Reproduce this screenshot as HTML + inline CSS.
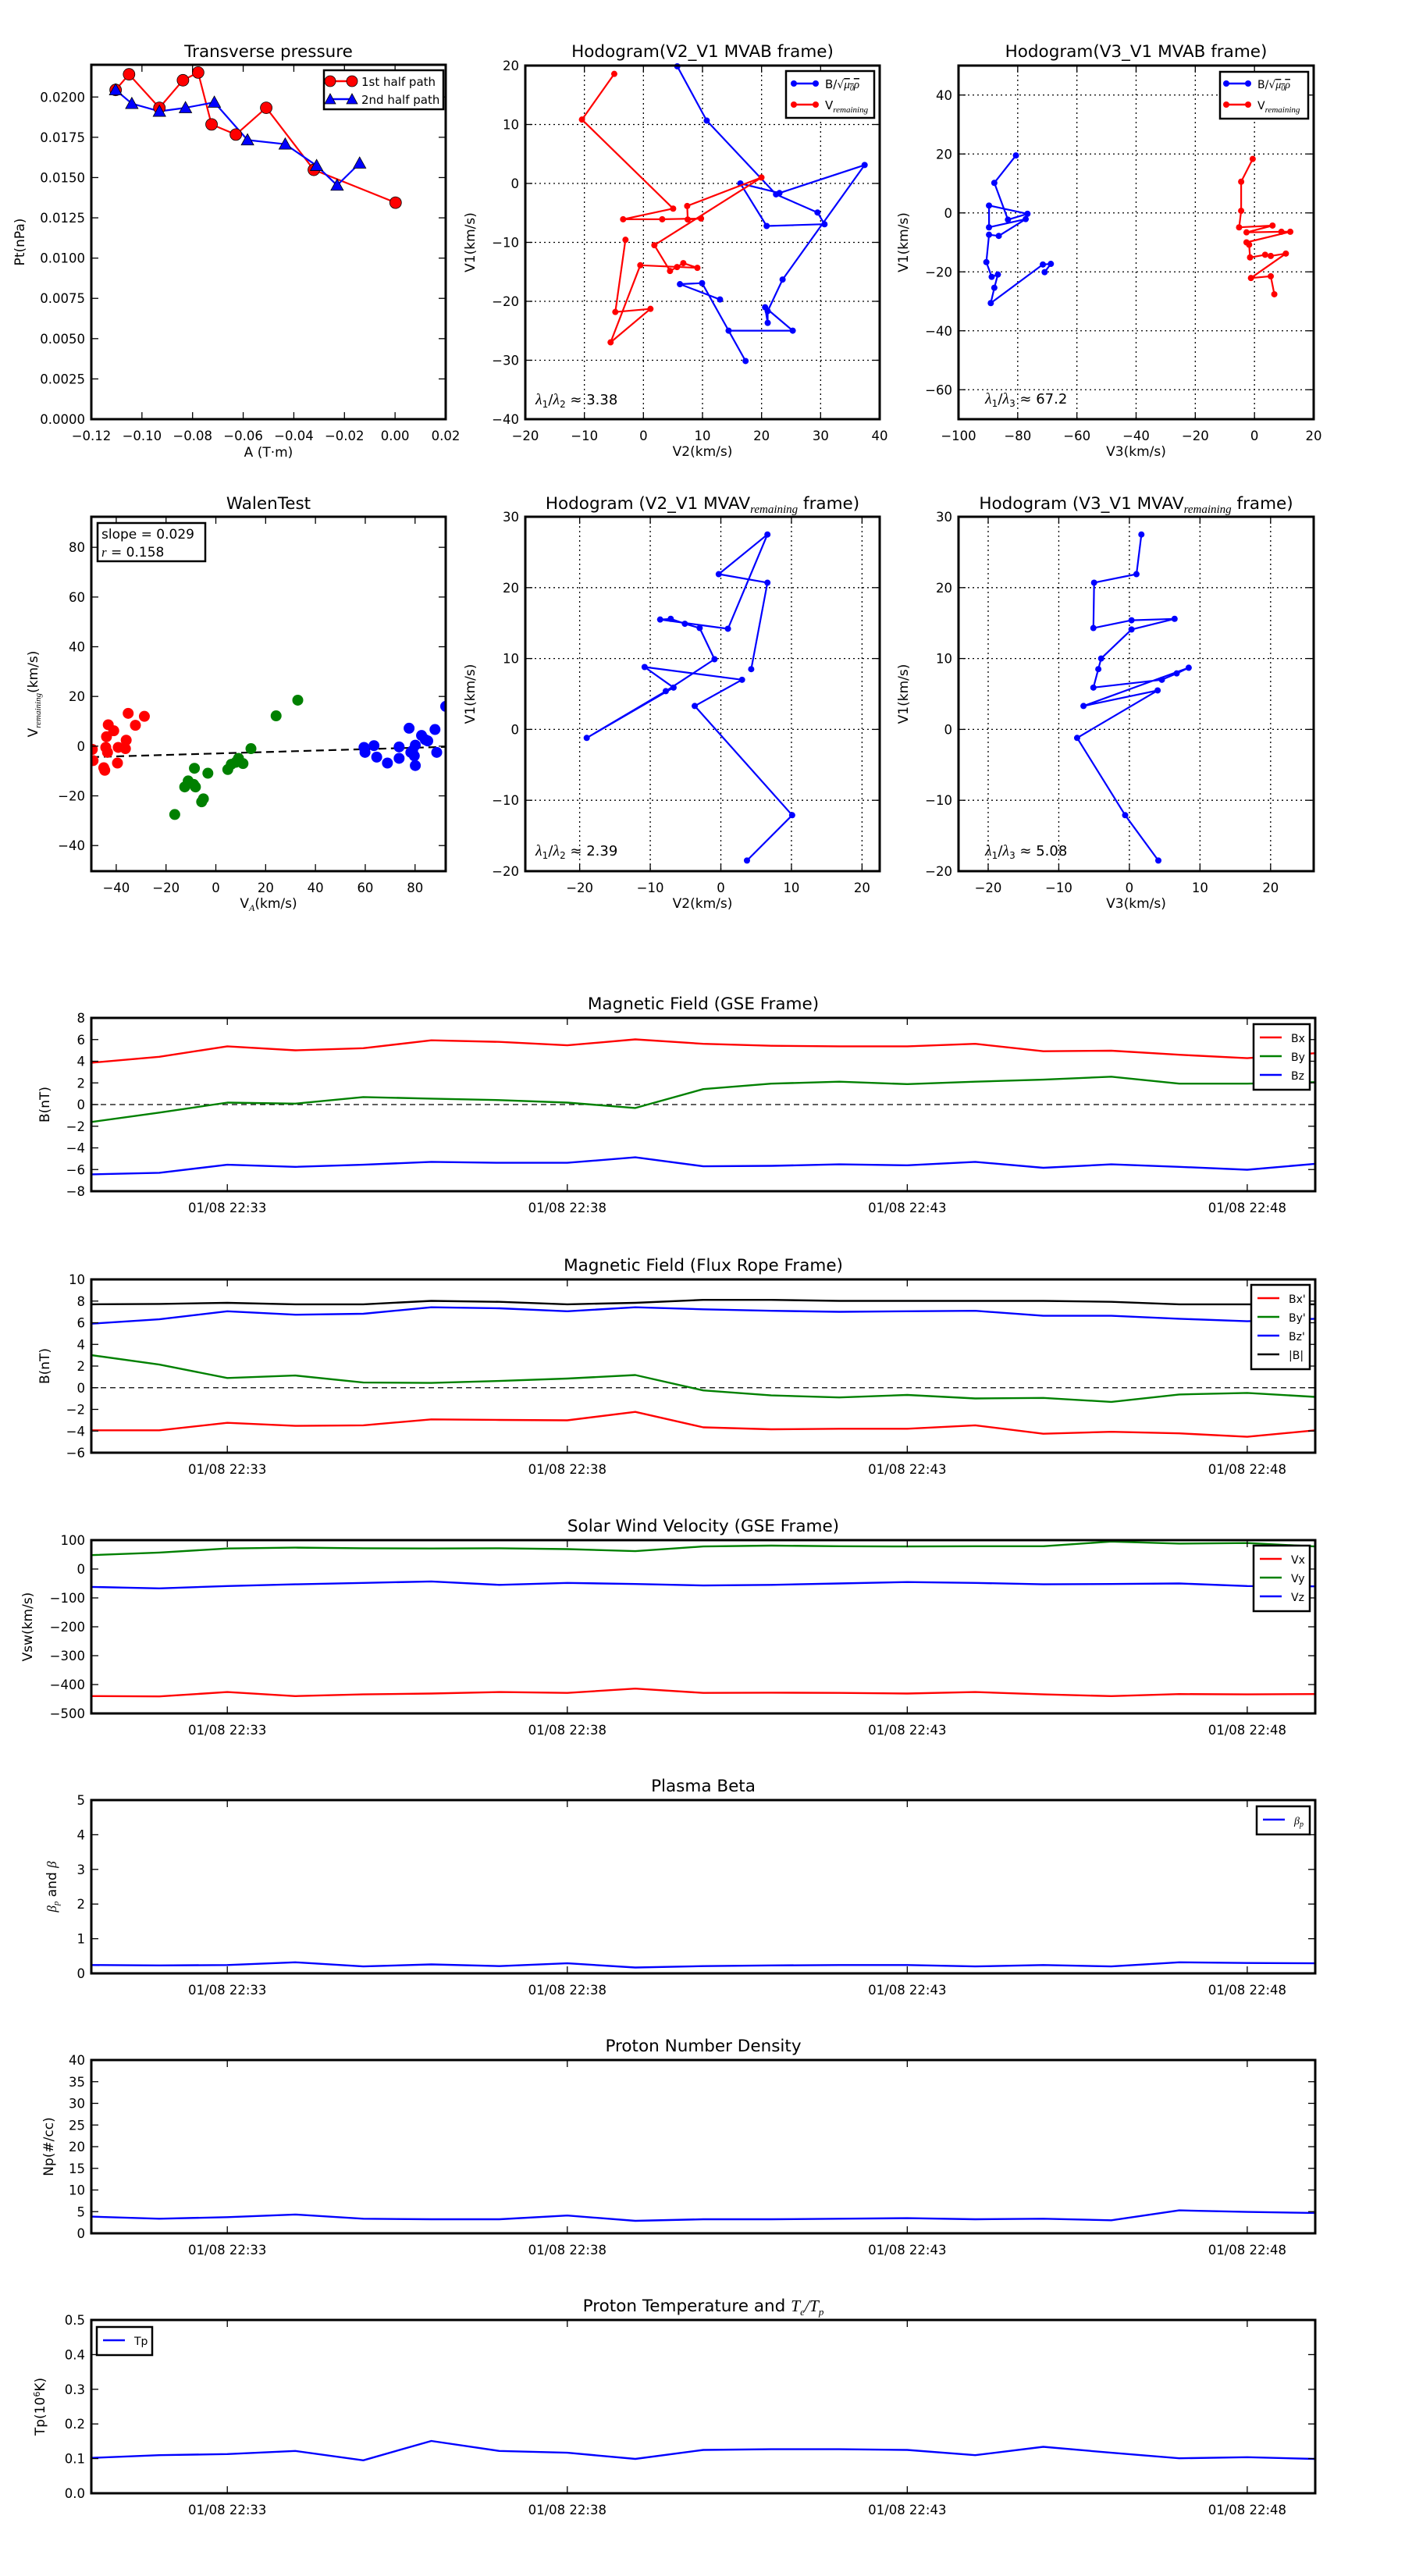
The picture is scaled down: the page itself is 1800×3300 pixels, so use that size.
<!DOCTYPE html>
<html><head><meta charset="utf-8"><title>Flux rope analysis</title>
<style>
html,body{margin:0;padding:0;background:#fff;}
svg{display:block;font-family:"DejaVu Sans","Liberation Sans",sans-serif;}
</style></head>
<body>
<svg id="fig" xmlns="http://www.w3.org/2000/svg" width="1800" height="3300" viewBox="0 0 1800 3300">
<rect x="0" y="0" width="1800" height="3300" fill="#fff"/>
</svg>
<script>
// ---------- Transverse pressure ----------
const tpRedA = [-0.1104,-0.1051,-0.0931,-0.0838,-0.0778,-0.0725,-0.0629,-0.0509,-0.0321,0.0002];
const tpRedPt = [0.02044,0.02141,0.01933,0.02104,0.02152,0.0183,0.01767,0.01933,0.01548,0.01344];
const tpBlueA = [-0.1104,-0.104,-0.0931,-0.0828,-0.0714,-0.0583,-0.0434,-0.031,-0.0229,-0.014];
const tpBluePt = [0.02044,0.01959,0.01911,0.01933,0.01967,0.01733,0.01707,0.01574,0.01452,0.01589];
const tpXTicks = [-0.12,-0.10,-0.08,-0.06,-0.04,-0.02,0.00,0.02];
const tpYTicks = [0,0.0025,0.005,0.0075,0.01,0.0125,0.015,0.0175,0.02];
// ---------- Hodogram V2_V1 MVAB ----------
const h1BlueX = [5.73,10.72,22.45,29.47,30.66,20.86,16.41,23.03,37.45,23.56,21.04,21.04,20.6,25.28,14.42,17.29,9.93,6.18,12.97];
const h1BlueY = [19.87,10.66,-1.85,-4.93,-6.92,-7.22,0,-1.63,3.13,-16.3,-21.67,-23.66,-21.01,-24.98,-24.98,-30.13,-16.92,-17.09,-19.69];
const h1RedX = [-4.94,-10.41,5.03,-3.44,3.18,9.75,7.5,7.41,19.98,1.85,4.5,5.69,6.75,9.13,-0.53,-5.56,1.19,-4.76,-3.04];
const h1RedY = [18.59,10.84,-4.27,-6.08,-6.08,-5.95,-6.12,-3.83,1.01,-10.48,-14.85,-14.19,-13.52,-14.32,-13.88,-26.96,-21.28,-21.81,-9.56];
const h1XTicks = [-20,-10,0,10,20,30,40];
const h1YTicks = [-40,-30,-20,-10,0,10,20];
// ---------- Hodogram V3_V1 MVAB ----------
const h2BlueX = [-80.6,-87.9,-83.3,-76.7,-89.7,-89.7,-77.3,-86.4,-89.7,-90.6,-88.8,-86.7,-87.9,-89.1,-71.5,-68.8,-70.9];
const h2BlueY = [19.5,10.2,-2.3,-0.3,2.5,-4.9,-2.1,-7.8,-7.4,-16.7,-21.7,-20.9,-25.4,-30.6,-17.5,-17.3,-20.1];
const h2RedX = [-0.6,-4.5,-4.5,-5.2,6.1,-2.7,9.1,12.1,-2.7,-1.8,-1.5,3.6,5.5,10.6,-1.2,5.5,6.7];
const h2RedY = [18.3,10.6,0.7,-4.9,-4.3,-6.6,-6.4,-6.4,-10.0,-10.8,-15.1,-14.2,-14.6,-13.8,-22.1,-21.5,-27.6];
const h2XTicks = [-100,-80,-60,-40,-20,0,20];
const h2YTicks = [-60,-40,-20,0,20,40];
// ---------- Walen test ----------
const wRedX = [-49.6,-49.3,-45,-44.2,-43.2,-41,-43.9,-39.2,-39.5,-36,-35.2,-32.3,-28.7,-36.3,-44.6,-43.5];
const wRedY = [-1.3,-5.8,-8.7,-0.5,8.6,6.2,3.8,-0.5,-6.8,2.4,13.2,8.4,12,-1,-9.7,-2.5];
const wGreenX = [-16.5,-12.5,-11.1,-8.9,-8.2,-8.6,-5.7,-5,-3.2,4.8,6.2,8,9.1,10.9,14.1,24.2,32.9];
const wGreenY = [-27.5,-16.4,-14,-15.4,-16.4,-8.9,-22.4,-21.2,-10.9,-9.4,-7.3,-6.5,-4.9,-7,-1,12.2,18.5];
const wBlueX = [59.5,59.9,63.5,64.6,68.9,73.6,73.6,77.6,78.3,79.7,80.1,80.1,82.6,84.1,85.1,88,88.7,92.3,79];
const wBlueY = [-0.5,-2.5,0.2,-4.4,-6.8,-0.3,-4.9,7.2,-2.5,-3.9,-7.8,0.4,4.3,2.6,2.1,6.7,-2.5,16,-1.8];
const wSlope = [0.029];
const wIntercept = [-2.95];
const wXTicks = [-40,-20,0,20,40,60,80];
const wYTicks = [-40,-20,0,20,40,60,80];
// ---------- MVAV hodograms ----------
const h3X = [4.3,6.6,-0.3,6.6,1,-8.6,-7.1,-5.1,-3,-0.9,-7.8,-19,-6.7,-10.8,3,-3.7,10.1,3.7];
const h3Y = [8.5,20.7,21.9,27.5,14.2,15.5,15.6,14.9,14.3,9.9,5.4,-1.2,5.9,8.8,7,3.3,-12.1,-18.5];
const h4X = [1.7,1,-5,-5.1,0.3,6.4,0.3,-4,-4.4,-5.1,4.6,6.7,8.4,-6.5,4,-7.4,-0.6,4.1];
const h4Y = [27.5,21.9,20.7,14.3,15.4,15.6,14.1,10,8.5,5.9,7,7.9,8.7,3.3,5.5,-1.2,-12.1,-18.5];
const hvXTicks = [-20,-10,0,10,20];
const hvYTicks = [-20,-10,0,10,20,30];
// ---------- Time series (one sample per minute, 22:31 .. 22:49) ----------
const tsMinutes = [0,1,2,3,4,5,6,7,8,9,10,11,12,13,14,15,16,17,18];
const timeTickIdx = [2,7,12,17];
const timeTickLabels = ["01/08 22:33","01/08 22:38","01/08 22:43","01/08 22:48"];
const gseBx = [3.86,4.41,5.38,5.01,5.2,5.93,5.79,5.47,6.02,5.61,5.43,5.38,5.38,5.61,4.92,4.97,4.6,4.28,4.74];
const gseBy = [-1.61,-0.74,0.18,0.09,0.69,0.55,0.41,0.18,-0.32,1.43,1.93,2.11,1.89,2.11,2.3,2.57,1.93,1.93,2.07];
const gseBz = [-6.44,-6.3,-5.56,-5.75,-5.56,-5.29,-5.38,-5.38,-4.87,-5.7,-5.66,-5.52,-5.61,-5.29,-5.84,-5.52,-5.75,-6.02,-5.47];
const frBx = [-3.93,-3.93,-3.24,-3.52,-3.47,-2.92,-2.97,-3.01,-2.23,-3.66,-3.84,-3.79,-3.79,-3.47,-4.25,-4.07,-4.21,-4.53,-3.93];
const frBy = [3.01,2.14,0.9,1.13,0.48,0.44,0.62,0.85,1.17,-0.25,-0.71,-0.9,-0.67,-0.99,-0.94,-1.31,-0.62,-0.48,-0.85];
const frBz = [5.91,6.32,7.06,6.74,6.83,7.43,7.33,7.06,7.43,7.24,7.1,7.01,7.06,7.1,6.64,6.64,6.37,6.14,6.37];
const frBt = [7.70,7.74,7.84,7.70,7.70,8.02,7.93,7.70,7.84,8.11,8.11,8.02,8.02,8.02,8.02,7.93,7.70,7.70,7.70];
const velVx = [-440,-441,-426,-440,-434,-431,-426,-429,-414,-429,-428,-429,-431,-426,-434,-440,-433,-434,-433];
const velVy = [48,57,71,74,72,71,72,69,62,78,81,79,78,79,79,95,88,90,78];
const velVz = [-62,-67,-59,-53,-48,-43,-55,-48,-52,-57,-55,-50,-45,-48,-53,-52,-50,-59,-60];
const betaP = [0.24,0.23,0.24,0.32,0.2,0.26,0.21,0.29,0.17,0.21,0.23,0.24,0.24,0.2,0.24,0.2,0.32,0.3,0.29];
const densNp = [3.86,3.37,3.73,4.34,3.37,3.25,3.25,4.1,2.89,3.25,3.25,3.37,3.49,3.25,3.37,3.01,5.3,4.94,4.7];
const tempTp = [0.102,0.11,0.113,0.122,0.095,0.151,0.122,0.117,0.099,0.125,0.127,0.127,0.125,0.11,0.134,0.117,0.101,0.104,0.099];

const NS = "http://www.w3.org/2000/svg";
const svg = document.getElementById("fig");
function mk(tag, attrs, parent) {
  const el = document.createElementNS(NS, tag);
  for (const k in attrs) el.setAttribute(k, attrs[k]);
  (parent || svg).appendChild(el);
  return el;
}
function fmtNum(v, d) {
  const s = v.toFixed(d);
  return s.startsWith("-") ? "\u2212" + s.slice(1) : s;
}
function makeAxes(name, px0, px1, py0, py1, xmin, xmax, ymin, ymax) {
  const g = mk("g", {});
  
  
  return {g, px0, px1, py0, py1,
    sx: v => px0 + (v - xmin) / (xmax - xmin) * (px1 - px0),
    sy: v => py1 - (v - ymin) / (ymax - ymin) * (py1 - py0)};
}
function clipFor(ax, id) {
  const cp = mk("clipPath", {id: id});
  mk("rect", {x: ax.px0, y: ax.py0, width: ax.px1 - ax.px0, height: ax.py1 - ax.py0}, cp);
  return "url(#" + id + ")";
}
function grid(ax, xt, yt) {
  for (const v of xt) {
    const l = mk("line", {x1: ax.sx(v), x2: ax.sx(v), y1: ax.py0, y2: ax.py1, stroke: "#000", "stroke-width": 1.3, "stroke-dasharray": "2,4"}, ax.g);
    
    
  }
  for (const v of yt) {
    const l = mk("line", {x1: ax.px0, x2: ax.px1, y1: ax.sy(v), y2: ax.sy(v), stroke: "#000", "stroke-width": 1.3, "stroke-dasharray": "2,4"}, ax.g);
    
    
  }
}
function frame(ax, xt, yt, xlab, ylab, xd, yd, xlabelText, ylabelText, xlabY, ylabX) {
  const r = mk("rect", {x: ax.px0, y: ax.py0, width: ax.px1 - ax.px0, height: ax.py1 - ax.py0, fill: "none", stroke: "#000", "stroke-width": 3}, ax.g);
  
  
  xt.forEach((v, i) => {
    const x = ax.sx(v);
    mk("line", {x1: x, x2: x, y1: ax.py1, y2: ax.py1 - 9, stroke: "#000", "stroke-width": 1.3}, ax.g);
    mk("line", {x1: x, x2: x, y1: ax.py0, y2: ax.py0 + 9, stroke: "#000", "stroke-width": 1.3}, ax.g);
    const t = mk("text", {x: x, y: ax.py1 + 27, "text-anchor": "middle", "font-size": 16.5}, ax.g);
    t.textContent = xlab ? xlab[i] : fmtNum(v, xd);
    
    
  });
  yt.forEach((v, i) => {
    const y = ax.sy(v);
    mk("line", {x1: ax.px0, x2: ax.px0 + 9, y1: y, y2: y, stroke: "#000", "stroke-width": 1.3}, ax.g);
    mk("line", {x1: ax.px1, x2: ax.px1 - 9, y1: y, y2: y, stroke: "#000", "stroke-width": 1.3}, ax.g);
    const t = mk("text", {x: ax.px0 - 8, y: y + 6, "text-anchor": "end", "font-size": 16.5}, ax.g);
    t.textContent = fmtNum(v, yd);
    
    
  });
  if (xlabelText) {
    const t = mk("text", {x: (ax.px0 + ax.px1) / 2, y: xlabY, "text-anchor": "middle", "font-size": 17}, ax.g);
    t.innerHTML = xlabelText;
    
    
  }
  if (ylabelText) {
    const cy = (ax.py0 + ax.py1) / 2;
    const t = mk("text", {x: ylabX, y: cy, "text-anchor": "middle", "font-size": 17, transform: "rotate(-90 " + ylabX + " " + cy + ")"}, ax.g);
    t.innerHTML = ylabelText;
    
    
  }
}
function title(ax, txt, y) {
  const t = mk("text", {x: (ax.px0 + ax.px1) / 2, y: y, "text-anchor": "middle", "font-size": 21.5}, ax.g);
  t.innerHTML = txt;
  
  
}
function line(ax, xs, ys, color, name, clip, w) {
  const pts = xs.map((x, i) => ax.sx(x).toFixed(1) + "," + ax.sy(ys[i]).toFixed(1)).join(" ");
  const p = mk("polyline", {points: pts, fill: "none", stroke: color, "stroke-width": w || 2.2, "stroke-linejoin": "round", "clip-path": clip || ""}, ax.g);
  
  
}
function dots(ax, xs, ys, color, r, name, edge) {
  xs.forEach((x, i) => {
    const c = mk("circle", {cx: ax.sx(x), cy: ax.sy(ys[i]), r: r, fill: color, stroke: edge ? "#000" : "none", "stroke-width": 0.8}, ax.g);
    
    
  });
}
function tris(ax, xs, ys, color, s, name) {
  xs.forEach((x, i) => {
    const cx = ax.sx(x), cy = ax.sy(ys[i]);
    const p = mk("polygon", {points: `${cx},${cy - s} ${cx - s},${cy + s * 0.8} ${cx + s},${cy + s * 0.8}`, fill: color, stroke: "#000", "stroke-width": 0.8}, ax.g);
    
    
  });
}
function legendBox(ax, x, y, w, h) {
  const r = mk("rect", {x: x, y: y, width: w, height: h, fill: "#fff", stroke: "#000", "stroke-width": 2.5}, ax.g);
  
  
}
function legendEntry(ax, x, y, color, label, marker, fs) {
  mk("line", {x1: x, x2: x + 28, y1: y, y2: y, stroke: color, "stroke-width": 2.5}, ax.g);
  if (marker === "dot") { mk("circle", {cx: x, cy: y, r: 4, fill: color}, ax.g); mk("circle", {cx: x + 28, cy: y, r: 4, fill: color}, ax.g); }
  if (marker === "big") { mk("circle", {cx: x, cy: y, r: 7, fill: color, stroke: "#000", "stroke-width": 0.8}, ax.g); mk("circle", {cx: x + 28, cy: y, r: 7, fill: color, stroke: "#000", "stroke-width": 0.8}, ax.g); }
  if (marker === "tri") { for (const cx of [x, x + 28]) mk("polygon", {points: `${cx},${y - 7} ${cx - 7},${y + 6} ${cx + 7},${y + 6}`, fill: color, stroke: "#000", "stroke-width": 0.8}, ax.g); }
  const t = mk("text", {x: x + 40, y: y + 6, "font-size": fs || 15}, ax.g);
  t.innerHTML = label;
  
  
}
function note(ax, x, y, html, fs) {
  const t = mk("text", {x: x, y: y, "font-size": fs || 18}, ax.g);
  t.innerHTML = html;
  
  
}
const lam = (a, b, v) => `<tspan font-family="Liberation Serif" font-style="italic" font-size="20">λ</tspan><tspan font-size="12" dy="4">${a}</tspan><tspan dy="-4" font-size="18">/</tspan><tspan font-family="Liberation Serif" font-style="italic" font-size="20">λ</tspan><tspan font-size="12" dy="4">${b}</tspan><tspan dy="-4"> ≈ ${v}</tspan>`;
const BLBL = `B/<tspan font-size="14">√</tspan><tspan font-family="Liberation Serif" font-style="italic" text-decoration="overline">μ<tspan font-size="10" dy="3">0</tspan><tspan dy="-3">ρ</tspan></tspan>`;
const VREM = `V<tspan font-family="Liberation Serif" font-style="italic" font-size="11" dy="4">remaining</tspan>`;

// ===== Transverse pressure =====
{
  const ax = makeAxes("transverse-pressure-chart", 117, 571, 83, 537, -0.12, 0.02, 0, 0.022);
  line(ax, tpRedA, tpRedPt, "#f00", "first-half-path-line");
  line(ax, tpBlueA, tpBluePt, "#00f", "second-half-path-line");
  dots(ax, tpRedA, tpRedPt, "#f00", 7.5, "first-half-point", true);
  tris(ax, tpBlueA, tpBluePt, "#00f", 8, "second-half-point");
  frame(ax, tpXTicks, tpYTicks, null, null, 2, 4, "A (T·m)", "Pt(nPa)", 585, 31);
  title(ax, "Transverse pressure", 73);
  legendBox(ax, 415, 90, 153, 50);
  legendEntry(ax, 423, 104, "#f00", "1st half path", "big", 15);
  legendEntry(ax, 423, 127, "#00f", "2nd half path", "tri", 15);
}
// ===== Hodogram V2_V1 MVAB =====
{
  const ax = makeAxes("hodogram-v2-v1-mvab", 673, 1127, 84, 537, -20, 40, -40, 20);
  grid(ax, h1XTicks, h1YTicks);
  const c = clipFor(ax, "c1");
  line(ax, h1BlueX, h1BlueY, "#00f", "b-hodogram-line", c);
  dots(ax, h1BlueX, h1BlueY, "#00f", 4, "b-hodogram-point");
  line(ax, h1RedX, h1RedY, "#f00", "v-hodogram-line", c);
  dots(ax, h1RedX, h1RedY, "#f00", 4, "v-hodogram-point");
  frame(ax, h1XTicks, h1YTicks, null, null, 0, 0, "V2(km/s)", "V1(km/s)", 584, 608);
  title(ax, "Hodogram(V2_V1 MVAB frame)", 73);
  legendBox(ax, 1007, 91, 113, 60);
  legendEntry(ax, 1017, 107, "#00f", BLBL, "dot", 15);
  legendEntry(ax, 1017, 134, "#f00", VREM, "dot", 15);
  note(ax, 686, 518, lam(1, 2, "3.38"));
}
// ===== Hodogram V3_V1 MVAB =====
{
  const ax = makeAxes("hodogram-v3-v1-mvab", 1228, 1683, 84, 537, -100, 20, -70, 50);
  grid(ax, h2XTicks, h2YTicks);
  const c = clipFor(ax, "c2");
  line(ax, h2BlueX, h2BlueY, "#00f", "b-hodogram-line", c);
  dots(ax, h2BlueX, h2BlueY, "#00f", 4, "b-hodogram-point");
  line(ax, h2RedX, h2RedY, "#f00", "v-hodogram-line", c);
  dots(ax, h2RedX, h2RedY, "#f00", 4, "v-hodogram-point");
  frame(ax, h2XTicks, h2YTicks, null, null, 0, 0, "V3(km/s)", "V1(km/s)", 584, 1163);
  title(ax, "Hodogram(V3_V1 MVAB frame)", 73);
  legendBox(ax, 1563, 92, 113, 60);
  legendEntry(ax, 1571, 107, "#00f", BLBL, "dot", 14);
  legendEntry(ax, 1571, 134, "#f00", VREM, "dot", 14);
  note(ax, 1262, 517, lam(1, 3, "67.2"));
}
// ===== Walen test =====
{
  const ax = makeAxes("walen-test-chart", 117, 571, 662, 1116, -50, 92.3, -50.3, 92.3);
  const c = clipFor(ax, "c3");
  const lx = [-50, 92.3];
  const dl = mk("line", {x1: ax.sx(lx[0]), y1: ax.sy(wSlope[0] * lx[0] + wIntercept[0]), x2: ax.sx(lx[1]), y2: ax.sy(wSlope[0] * lx[1] + wIntercept[0]), stroke: "#000", "stroke-width": 2.2, "stroke-dasharray": "10,6"}, ax.g);
  
  
  const gd = mk("g", {"clip-path": c}, ax.g);
  const sub = {g: gd, sx: ax.sx, sy: ax.sy};
  dots(sub, wRedX, wRedY, "#f00", 7, "walen-point-red");
  dots(sub, wGreenX, wGreenY, "#008000", 7, "walen-point-green");
  dots(sub, wBlueX, wBlueY, "#00f", 7, "walen-point-blue");
  frame(ax, wXTicks, wYTicks, null, null, 0, 0, `V<tspan font-family="Liberation Serif" font-style="italic" font-size="12" dy="4">A</tspan><tspan dy="-4">(km/s)</tspan>`, `V<tspan font-family="Liberation Serif" font-style="italic" font-size="11" dy="4">remaining</tspan><tspan dy="-4">(km/s)</tspan>`, 1163, 48);
  title(ax, "WalenTest", 652);
  legendBox(ax, 125, 670, 138, 49);
  const t = mk("text", {x: 130, y: 690, "font-size": 17}, ax.g);
  t.textContent = "slope = 0.029";
  
  
  const t2 = mk("text", {x: 130, y: 713, "font-size": 17}, ax.g);
  t2.innerHTML = `<tspan font-family="Liberation Serif" font-style="italic">r</tspan> = 0.158`;
  
  
}
// ===== Hodogram V2_V1 MVAV =====
{
  const ax = makeAxes("hodogram-v2-v1-mvav", 673, 1127, 662, 1116, -27.7, 22.5, -20, 30);
  grid(ax, hvXTicks, hvYTicks);
  line(ax, h3X, h3Y, "#00f", "b-hodogram-line", clipFor(ax, "c4"));
  dots(ax, h3X, h3Y, "#00f", 4, "b-hodogram-point");
  frame(ax, hvXTicks, hvYTicks, null, null, 0, 0, "V2(km/s)", "V1(km/s)", 1163, 608);
  title(ax, `Hodogram (V2_V1 MVAV<tspan font-family="Liberation Serif" font-style="italic" font-size="15" dy="5">remaining</tspan><tspan dy="-5"> frame)</tspan>`, 652);
  note(ax, 686, 1096, lam(1, 2, "2.39"));
}
// ===== Hodogram V3_V1 MVAV =====
{
  const ax = makeAxes("hodogram-v3-v1-mvav", 1228, 1683, 662, 1116, -24.2, 26.1, -20, 30);
  grid(ax, hvXTicks, hvYTicks);
  line(ax, h4X, h4Y, "#00f", "b-hodogram-line", clipFor(ax, "c5"));
  dots(ax, h4X, h4Y, "#00f", 4, "b-hodogram-point");
  frame(ax, hvXTicks, hvYTicks, null, null, 0, 0, "V3(km/s)", "V1(km/s)", 1163, 1163);
  title(ax, `Hodogram (V3_V1 MVAV<tspan font-family="Liberation Serif" font-style="italic" font-size="15" dy="5">remaining</tspan><tspan dy="-5"> frame)</tspan>`, 652);
  note(ax, 1262, 1096, lam(1, 3, "5.08"));
}
// ===== Time series =====
function tsPanel(name, ttl, y0, ymin, ymax, yticks, yd, ylab, ylabX, series, legend, zeroLine) {
  const ax = makeAxes(name, 117, 1685, y0, y0 + 222, 0, 18, ymin, ymax);
  if (zeroLine) {
    const z = mk("line", {x1: ax.px0, x2: ax.px1, y1: ax.sy(0), y2: ax.sy(0), stroke: "#000", "stroke-width": 1.3, "stroke-dasharray": "7,5"}, ax.g);
    
    
  }
  const c = clipFor(ax, "clip-" + name);
  for (const s of series) line(ax, tsMinutes, s.v, s.c, s.n, c, 2.4);
  frame(ax, timeTickIdx, yticks, timeTickLabels, null, 0, yd, null, ylab, 0, ylabX);
  title(ax, ttl, y0 - 11);
  if (legend) {
    legendBox(ax, legend.x, legend.y, legend.w, series.length * 24 + 12);
    series.forEach((s, i) => legendEntry(ax, legend.x + 8, legend.y + 17 + i * 24, s.c, s.l, null, 14));
  }
}
tsPanel("magnetic-field-gse-chart", "Magnetic Field (GSE Frame)", 1304, -8, 8, [-8,-6,-4,-2,0,2,4,6,8], 0, "B(nT)", 63,
  [{v: gseBx, c: "#f00", n: "bx-line", l: "Bx"}, {v: gseBy, c: "#008000", n: "by-line", l: "By"}, {v: gseBz, c: "#00f", n: "bz-line", l: "Bz"}],
  {x: 1606, y: 1312, w: 72}, true);
tsPanel("magnetic-field-flux-rope-chart", "Magnetic Field (Flux Rope Frame)", 1639, -6, 10, [-6,-4,-2,0,2,4,6,8,10], 0, "B(nT)", 63,
  [{v: frBx, c: "#f00", n: "bx-prime-line", l: "Bx'"}, {v: frBy, c: "#008000", n: "by-prime-line", l: "By'"}, {v: frBz, c: "#00f", n: "bz-prime-line", l: "Bz'"}, {v: frBt, c: "#000", n: "b-magnitude-line", l: "|B|"}],
  {x: 1603, y: 1646, w: 75}, true);
tsPanel("solar-wind-velocity-chart", "Solar Wind Velocity (GSE Frame)", 1973, -500, 100, [-500,-400,-300,-200,-100,0,100], 0, "Vsw(km/s)", 41,
  [{v: velVx, c: "#f00", n: "vx-line", l: "Vx"}, {v: velVy, c: "#008000", n: "vy-line", l: "Vy"}, {v: velVz, c: "#00f", n: "vz-line", l: "Vz"}],
  {x: 1606, y: 1980, w: 72}, false);
tsPanel("plasma-beta-chart", "Plasma Beta", 2306, 0, 5, [0,1,2,3,4,5], 0, `<tspan font-family="Liberation Serif" font-style="italic">β</tspan><tspan font-size="11" dy="3" font-family="Liberation Serif" font-style="italic">p</tspan><tspan dy="-3"> and </tspan><tspan font-family="Liberation Serif" font-style="italic">β</tspan>`, 72,
  [{v: betaP, c: "#00f", n: "beta-p-line", l: `<tspan font-family="Liberation Serif" font-style="italic">β</tspan><tspan font-size="10" dy="3" font-family="Liberation Serif" font-style="italic">p</tspan>`}],
  {x: 1610, y: 2314, w: 68}, false);
tsPanel("proton-density-chart", "Proton Number Density", 2639, 0, 40, [0,5,10,15,20,25,30,35,40], 0, "Np(#/cc)", 68,
  [{v: densNp, c: "#00f", n: "np-line", l: "Np"}], null, false);
tsPanel("proton-temperature-chart", `Proton Temperature and <tspan font-family="Liberation Serif" font-style="italic">T</tspan><tspan font-family="Liberation Serif" font-style="italic" font-size="13" dy="5">e</tspan><tspan dy="-5" font-family="Liberation Serif" font-style="italic">/T</tspan><tspan font-family="Liberation Serif" font-style="italic" font-size="13" dy="5">p</tspan>`, 2972, 0, 0.5, [0,0.1,0.2,0.3,0.4,0.5], 1, `Tp(10<tspan font-size="11" dy="-6">6</tspan><tspan dy="6">K)</tspan>`, 57,
  [{v: tempTp, c: "#00f", n: "tp-line", l: "Tp"}], {x: 124, y: 2981, w: 71}, false);
</script>
</body></html>
